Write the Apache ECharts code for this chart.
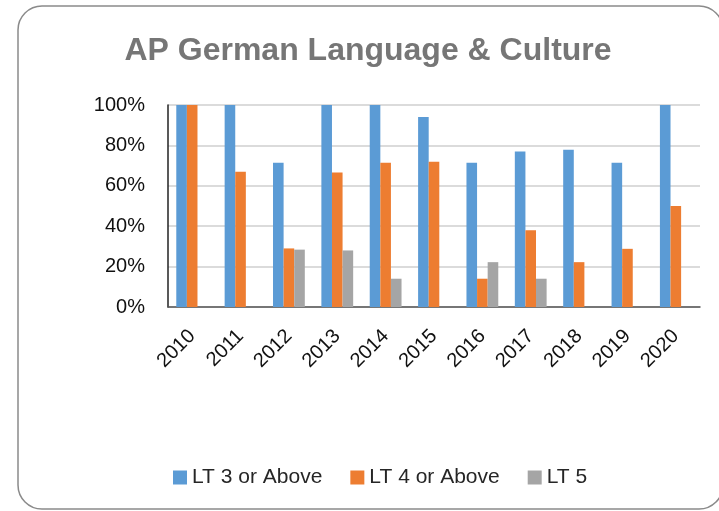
<!DOCTYPE html>
<html>
<head>
<meta charset="utf-8">
<script src="https://cdn.jsdelivr.net/npm/echarts@6/dist/echarts.min.js"></script>
<style>html,body{margin:0;padding:0;background:#fff;}#c{width:719px;height:511px;}</style>
</head>
<body>
<div id="c"></div>
<script>
const years = ['2010','2011','2012','2013','2014','2015','2016','2017','2018','2019','2020'];
const lt3 = [100, 100, 71.4, 100, 100, 94, 71.4, 77, 77.8, 71.4, 100];
const lt4 = [100, 66.9, 29, 66.6, 71.4, 71.9, 14, 38, 22.2, 28.8, 50];
const lt5 = [0, 0, 28.4, 28, 14, 0, 22.2, 14, 0, 0, 0];
const yTicks = [0, 20, 40, 60, 80, 100];
const seriesNames = ['LT 3 or Above', 'LT 4 or Above', 'LT 5'];
const colors = ['#5B9BD5', '#ED7D31', '#A5A5A5'];

const font = 'Liberation Sans';
const chart = echarts.init(document.getElementById('c'), null, {renderer: 'canvas'});
const bar = (name, data, color) => ({
  name, type: 'bar', data, barWidth: 10.6, barGap: '0%',
  itemStyle: {color}, emphasis: {disabled: true}
});
chart.setOption({
  animation: false,
  backgroundColor: '#fff',
  title: {
    text: 'AP German Language & Culture',
    left: 363, textAlign: 'center', top: 30,
    textStyle: {fontFamily: font, fontSize: 32, fontWeight: 'bold', color: '#767676'}
  },
  graphic: [{
    type: 'rect', z: -1,
    shape: {x: 18, y: 6, width: 705, height: 503, r: 24},
    style: {fill: 'none', stroke: '#8a8a8a', lineWidth: 1.5}
  }],
  legend: {
    data: seriesNames,
    left: 168, top: 462,
    itemWidth: 14, itemHeight: 14, itemGap: 28,
    icon: 'rect',
    textStyle: {fontFamily: font, fontSize: 21, color: '#262626'}
  },
  grid: {left: 168, right: 19, top: 105, bottom: 204, containLabel: false},
  xAxis: {
    type: 'category', data: years,
    axisLine: {show: true, lineStyle: {color: '#555', width: 1.5}},
    axisTick: {show: false},
    axisLabel: {rotate: 45, fontFamily: font, fontSize: 20, color: '#111', margin: 26, interval: 0}
  },
  yAxis: {
    type: 'value', min: yTicks[0], max: yTicks[yTicks.length - 1], interval: 20,
    axisLine: {show: true, lineStyle: {color: '#222', width: 1.5}},
    axisTick: {show: false},
    splitLine: {lineStyle: {color: '#cfcfcf', width: 1.5}},
    axisLabel: {formatter: v => v + '%', fontFamily: font, fontSize: 20, color: '#111', margin: 23}
  },
  series: [
    bar(seriesNames[0], lt3, colors[0]),
    bar(seriesNames[1], lt4, colors[1]),
    bar(seriesNames[2], lt5, colors[2])
  ]
});
</script>
</body>
</html>
